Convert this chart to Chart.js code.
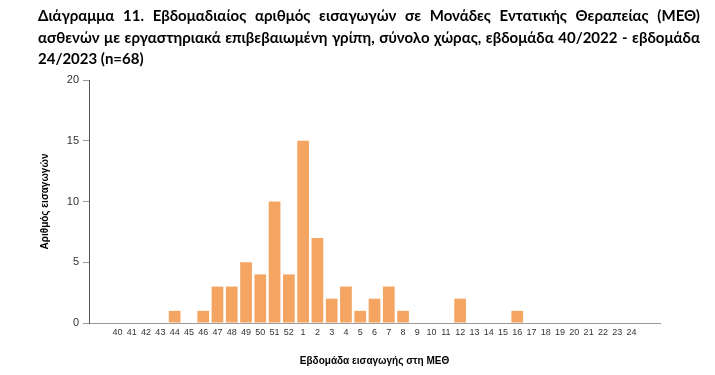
<!DOCTYPE html>
<html>
<head>
<meta charset="utf-8">
<script src="https://cdn.jsdelivr.net/npm/chart.js@4.4.0/dist/chart.umd.min.js"></script>
<style>
  html, body { margin: 0; padding: 0; background: #fff; }
  #wrap { position: relative; width: 715px; height: 375px; overflow: hidden; }
  #title {
    position: absolute; left: 38px; top: 5px; width: 662px;
    font-family: Lato, "Open Sans", sans-serif; font-weight: bold; font-size: 15px;
    line-height: 21.5px; color: #000;
  }
  #title span { display: block; text-align: justify; text-align-last: justify; white-space: nowrap; }
  #title span.last { text-align-last: left; }
  canvas { position: absolute; left: 0; top: 0; }
</style>
</head>
<body>
<div id="wrap">
  <canvas id="c" width="715" height="375"></canvas>
  <div id="title">
    <span>Διάγραμμα 11. Εβδομαδιαίος αριθμός εισαγωγών σε Μονάδες Εντατικής Θεραπείας (ΜΕΘ)</span>
    <span>ασθενών με εργαστηριακά επιβεβαιωμένη γρίπη, σύνολο χώρας, εβδομάδα 40/2022 - εβδομάδα</span>
    <span class="last">24/2023 (n=68)</span>
  </div>
</div>
<script>
const weeks = ['40','41','42','43','44','45','46','47','48','49','50','51','52',
  '1','2','3','4','5','6','7','8','9','10','11','12','13','14','15','16','17','18','19','20','21','22','23','24'];
const admissions = [0,0,0,0,1,0,1,3,3,5,4,10,4,
  15,7,2,3,1,2,3,1,0,0,0,2,0,0,0,1,0,0,0,0,0,0,0,0];
const yTicks = [0, 5, 10, 15, 20];
const xTitle = 'Εβδομάδα εισαγωγής στη ΜΕΘ';
const yTitle = 'Αριθμός εισαγωγών';

// pad two empty slots each side for axis spacing
const labels = ['', ''].concat(weeks, ['', '']);
const values = [null, null].concat(admissions, [null, null]);

new Chart(document.getElementById('c'), {
  type: 'bar',
  data: {
    labels: labels,
    datasets: [{
      data: values,
      backgroundColor: '#F5A562',
      borderWidth: 0,
      barPercentage: 0.82,
      categoryPercentage: 1.0
    }]
  },
  options: {
    responsive: false,
    animation: false,
    layout: { padding: { left: 39, right: 55, top: 80, bottom: 8 } },
    plugins: { legend: { display: false }, tooltip: { enabled: false } },
    scales: {
      x: {
        offset: false,
        grid: { display: false, drawTicks: false },
        border: { display: true, color: '#9a9a9a', width: 1 },
        ticks: {
          autoSkip: false, maxRotation: 0, minRotation: 0, padding: 4,
          color: '#333', font: { family: 'Liberation Sans, Arial, sans-serif', size: 9 }
        },
        title: {
          display: true, text: xTitle, color: '#000',
          font: { family: 'Liberation Sans, Arial, sans-serif', size: 10, weight: 'bold' },
          padding: { top: 9, bottom: 0 }
        },
        afterFit: (s) => { s.height = 44; }
      },
      y: {
        min: 0, max: 20,
        afterBuildTicks: (s) => { s.ticks = yTicks.map(v => ({ value: v })); },
        grid: { drawOnChartArea: false, drawTicks: true, tickLength: 6, color: '#9a9a9a' },
        border: { display: true, color: '#555', width: 1 },
        ticks: {
          padding: 4, color: '#333',
          font: { family: 'Liberation Sans, Arial, sans-serif', size: 11 }
        },
        title: {
          display: true, text: yTitle, color: '#000',
          font: { family: 'Liberation Sans, Arial, sans-serif', size: 10, weight: 'bold' },
          padding: { top: 0, bottom: 12 }
        },
        afterFit: (s) => { s.width = 50; }
      }
    }
  }
});
</script>
</body>
</html>
